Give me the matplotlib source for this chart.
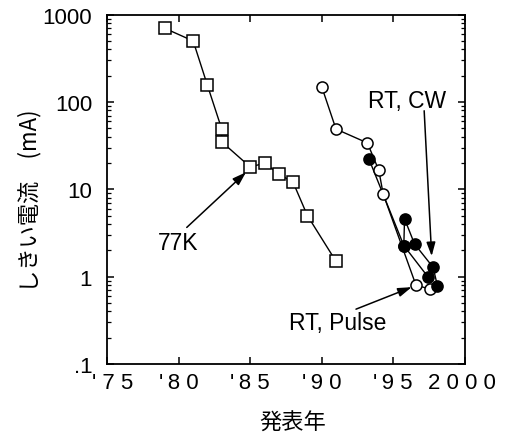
import matplotlib
matplotlib.use("Agg")
import matplotlib.pyplot as plt
from matplotlib.ticker import LogLocator, FixedLocator, NullFormatter
from matplotlib.transforms import ScaledTranslation

# ---- data ----
k77_years = [1979, 1981, 1982, 1983, 1983, 1985, 1986, 1987, 1988, 1989, 1991]
k77_ith = [700, 500, 155, 49, 35, 18, 20, 15, 12, 5.0, 1.5]

pulse_years = [1990, 1991, 1993.2, 1994, 1994.3, 1996.6, 1997.6]
pulse_ith = [150, 49, 34, 16.5, 8.9, 0.8, 0.72]

cw_years_a = [1993.3, 1995.75, 1997.45]
cw_ith_a = [22.4, 2.27, 0.99]
cw_years_b = [1995.75, 1995.8, 1996.5, 1997.8, 1998.1]
cw_ith_b = [2.27, 4.6, 2.37, 1.28, 0.79]

xticks = [1975, 1980, 1985, 1990, 1995, 2000]
xticklabels = ["' 7 5", "'\u20098 0", "'\u20098 5", "'\u20099 0", "'\u20099 5", "2 0 0 0"]
yticks = [0.1, 1, 10, 100, 1000]
yticklabels = [".1", "1", "10", "100", "1000"]

latin = ['Liberation Sans', 'DejaVu Sans']
cjk = ['Noto Sans CJK JP', 'Liberation Sans', 'DejaVu Sans']
plt.rcParams['font.family'] = latin

fig = plt.figure(figsize=(5.08, 4.35), dpi=100)
ax = fig.add_axes([0.2116, 0.1609, 0.7028, 0.8030])

lw = 1.0
ms = 8
# lines first
for xs, ys in [(k77_years, k77_ith), (pulse_years, pulse_ith), (cw_years_a, cw_ith_a), (cw_years_b, cw_ith_b)]:
    ax.plot(xs, ys, '-', color='black', lw=lw, zorder=2)
# markers
ax.plot(k77_years, k77_ith, 's', ms=ms, mfc='white', mec='black', mew=1.1, zorder=3, ls='none')
ax.plot(pulse_years, pulse_ith, 'o', ms=ms, mfc='white', mec='black', mew=1.1, zorder=3, ls='none')
ax.plot(cw_years_a + cw_years_b, cw_ith_a + cw_ith_b, 'o', ms=ms, mfc='black', mec='black', mew=1.1, zorder=4, ls='none')

ax.set_yscale('log')
ax.set_xlim(1975, 2000)
ax.set_ylim(0.1, 1000)

ax.xaxis.set_major_locator(FixedLocator(xticks))
ax.set_xticklabels(xticklabels, fontsize=16)
ax.yaxis.set_major_locator(FixedLocator(yticks))
ax.set_yticklabels(yticklabels, fontsize=16)
ax.yaxis.set_minor_locator(LogLocator(base=10, subs=range(2, 10)))
ax.yaxis.set_minor_formatter(NullFormatter())

ax.tick_params(axis='both', which='major', direction='in', top=True, right=True, length=5, width=1.1)
ax.tick_params(axis='both', which='minor', direction='in', top=True, right=True, length=3, width=0.9)
ax.tick_params(axis='x', pad=6)
ax.tick_params(axis='y', pad=11)
for s in ax.spines.values():
    s.set_linewidth(1.3)

# shift edge tick labels
labs = ax.get_xticklabels()
labs[0].set_transform(labs[0].get_transform() + ScaledTranslation(5/100, 0, fig.dpi_scale_trans))
labs[-1].set_transform(labs[-1].get_transform() + ScaledTranslation(-3/100, 0, fig.dpi_scale_trans))

ax.set_xlabel('発表年', fontsize=16, family=cjk)
ax.xaxis.set_label_coords(0.52, -0.133)
ax.set_ylabel('しきい電流\u3000(mA)', fontsize=16, family=cjk)
ax.yaxis.set_label_coords(-0.186, 0.47)

arrow = dict(arrowstyle='-|>,head_length=0.55,head_width=0.18', color='black', lw=1.1,
             mutation_scale=15, shrinkA=0, shrinkB=0)
ax.annotate('', xy=(0.388, 0.549), xytext=(0.222, 0.391), xycoords='axes fraction',
            textcoords='axes fraction', arrowprops=arrow)
ax.text(0.197, 0.349, '77K', transform=ax.transAxes, fontsize=16.5, ha='center', va='center')

ax.annotate('', xy=(0.908, 0.309), xytext=(0.887, 0.725), xycoords='axes fraction',
            textcoords='axes fraction', arrowprops=arrow)
ax.text(0.839, 0.754, 'RT, CW', transform=ax.transAxes, fontsize=16.5, ha='center', va='center')

ax.annotate('', xy=(0.852, 0.220), xytext=(0.696, 0.157), xycoords='axes fraction',
            textcoords='axes fraction', arrowprops=arrow)
ax.text(0.644, 0.120, 'RT, Pulse', transform=ax.transAxes, fontsize=16.5, ha='center', va='center')

fig.savefig('out.png', dpi=100)
